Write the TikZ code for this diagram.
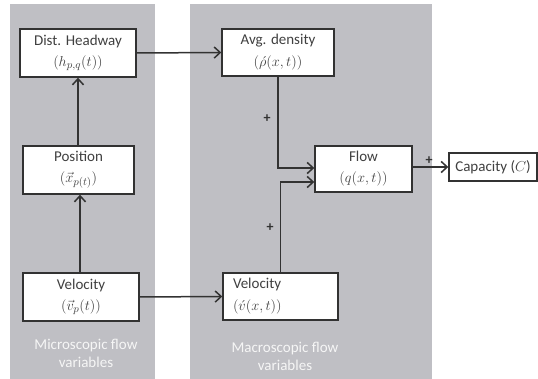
\documentclass[tikz,border=0pt]{standalone}
\usepackage{fontspec}
\setmainfont{Carlito}
\usetikzlibrary{arrows.meta}
\definecolor{panel}{RGB}{191,191,196}
\definecolor{ink}{RGB}{50,50,50}
\definecolor{txt}{RGB}{64,64,64}
\definecolor{lbl}{RGB}{246,246,246}
\begin{document}
\begin{tikzpicture}[x=1pt,y=-1pt,
  box/.style={draw=ink,line width=1.4pt,fill=white,text=txt,align=center,inner sep=2pt,
    font=\fontsize{15}{21}\selectfont},
  arr/.style={draw=ink,line width=1.5pt,-{Straight Barb[length=6pt,width=11pt,line width=1.5pt]}},
  plus/.style={font=\fontsize{14}{16}\selectfont\bfseries,text=ink},
  panellabel/.style={text=lbl,align=center,font=\fontsize{15}{18}\selectfont}]
\useasboundingbox (0,0) rectangle (538,379);
\fill[panel] (10,4) rectangle (155,379);
\fill[panel] (190,4) rectangle (432,379);
\node[box,minimum width=116pt,minimum height=48pt] (hw) at (78,53) {Dist. Headway\\$(h_{p,q}(t))$};
\node[box,minimum width=111pt,minimum height=48pt] (pos) at (78.5,170) {Position\\$(\vec{x}_{p(t)})$};
\node[box,minimum width=116pt,minimum height=48pt] (vmic) at (81,297) {Velocity\\$(\vec{v}_p(t))$};
\node[box,minimum width=112pt,minimum height=47pt] (avg) at (278,52.5) {Avg. density\\[1pt]$(\acute{\rho}(x,t))$};
\node[box,minimum width=97pt,minimum height=46pt] (flow) at (363.5,169) {Flow\\$(q(x,t))$};
\node[box,minimum width=115pt,minimum height=47pt,align=left,text width=95pt] (vmac) at (280.5,296.5) {Velocity\\[1pt]$(\acute{v}(x,t))$};
\node[box,minimum width=88pt,minimum height=28pt] (cap) at (493,167) {Capacity ($C$)};
\node[panellabel] (lmic) at (86,353) {Microscopic flow\\variables};
\node[panellabel] (lmac) at (285,356) {Macroscopic flow\\variables};
\draw[arr] (hw.east) -- (avg.west);
\draw[arr] (pos.north -| hw.north) -- (hw.south);
\draw[arr] (vmic.north -| 80,0) -- (pos.south -| 80,0);
\draw[arr] (vmic.east) -- (vmac.west);
\coordinate (fin1) at ([yshift=1pt]flow.west);
\coordinate (fin2) at ([yshift=-13pt]flow.west);
\draw[arr] (avg.south) |- (fin1);
\draw[arr] (vmac.north) |- (fin2);
\draw[arr] (flow.east |- cap.west) -- (cap.west);
\node[plus] (p1) at (267,119) {+};
\node[plus] (p2) at (270,228) {+};
\node[plus] (p3) at (429,161) {+};
\end{tikzpicture}
\end{document}
